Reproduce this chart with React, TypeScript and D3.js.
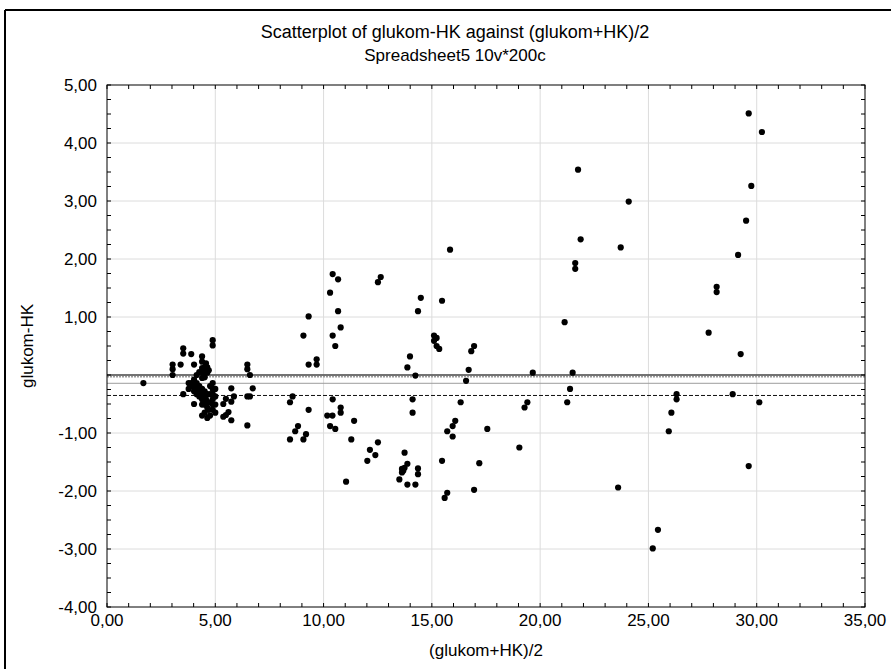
import React from "react";
import * as d3 from "d3";

const W = 891;
const H = 669;

const titleLines = ["Scatterplot of glukom-HK against (glukom+HK)/2", "Spreadsheet5 10v*200c"];
const xTitle = "(glukom+HK)/2";
const yTitle = "glukom-HK";

const xTicks = [0, 5, 10, 15, 20, 25, 30, 35];
const yTicks = [-4, -3, -2, -1, 0, 1, 2, 3, 4, 5];
// labels shown on the y axis (the 0 label is hidden in the original)
const yLabelTicks = [-4, -3, -2, -1, 1, 2, 3, 4, 5];

// mean (x) values
const xs = [
  1.68, 3.03, 3.03, 3.03, 3.4, 3.52, 3.52, 3.89, 3.52, 4.02, 4.39, 4.39, 4.88, 4.88,
  4.14, 4.26, 4.39, 4.45, 4.51, 4.63, 4.57, 4.63, 4.51, 4.39, 4.7,
  3.77, 3.89, 3.77, 3.95, 4.02, 4.08, 4.14, 4.2, 4.26, 4.33, 4.39, 4.45, 4.51, 4.14, 4.26, 4.39, 4.51, 4.63, 4.02,
  4.88, 4.88, 4.88, 4.88, 4.88, 4.88, 5.0, 5.0, 5.0, 5.0, 4.76, 4.76,
  4.39, 4.51, 4.63, 4.39, 4.51, 4.63, 4.7, 4.76, 4.02, 4.57, 4.7,
  5.37, 5.49, 5.74, 5.86, 5.74, 5.49, 5.61, 5.37, 5.74,
  6.48, 6.48, 6.6, 6.73, 6.48, 6.6, 6.48,
  8.45, 8.57, 8.45, 8.69, 8.82, 9.07, 9.19, 9.07, 9.31, 9.31, 9.31, 9.68, 9.68,
  10.17, 10.41, 10.3, 10.54, 10.42, 10.79, 10.79, 10.42, 10.67, 10.3, 10.67, 10.79, 10.42, 10.54,
  11.41, 11.28, 11.04,
  12.02, 12.14, 12.39, 12.51, 12.51, 12.64,
  13.74, 13.87, 13.62, 13.74, 13.62, 13.68, 13.5, 13.87, 14.24, 14.36, 14.36,
  13.87, 13.99, 14.24, 14.11, 14.11, 14.36, 14.49,
  15.47, 15.1, 15.22, 15.1, 15.22, 15.34,
  15.71, 15.47, 15.59, 15.71, 15.84,
  16.7, 16.58, 16.82, 16.95, 16.33, 16.08, 15.96, 15.96, 17.56, 17.19, 16.95,
  19.66, 19.41, 19.28, 19.04,
  21.13, 21.5, 21.38, 21.25, 21.62, 21.62, 21.87, 21.75,
  23.72, 23.6, 24.09,
  25.44, 25.2, 25.94, 26.06, 26.3, 26.3,
  27.78, 28.15, 28.15, 28.89, 29.14, 29.26, 29.51, 29.63, 29.75, 30.24, 29.63, 30.12,
];

// difference (y) values
const ys = [
  -0.14, 0.18, 0.1, 0.0, 0.18, 0.46, 0.37, 0.36, -0.33, 0.18, 0.32, 0.23, 0.6, 0.51,
  0.0, 0.05, 0.12, 0.04, 0.13, 0.13, 0.2, 0.04, -0.04, -0.05, 0.08,
  -0.14, -0.14, -0.24, -0.2, -0.28, -0.22, -0.33, -0.28, -0.37, -0.33, -0.42, -0.37, -0.47, -0.14, -0.19, -0.24, -0.28, -0.33, -0.08,
  -0.14, -0.24, -0.33, -0.42, -0.51, -0.6, -0.24, -0.37, -0.51, -0.65, -0.33, -0.19,
  -0.51, -0.51, -0.56, -0.7, -0.65, -0.74, -0.6, -0.7, -0.5, -0.42, -0.47,
  -0.5, -0.41, -0.46, -0.37, -0.23, -0.69, -0.64, -0.72, -0.78,
  0.18, 0.1, 0.0, -0.23, -0.37, -0.37, -0.87,
  -0.47, -0.37, -1.11, -0.97, -0.88, -1.11, -1.02, 0.68, 1.01, 0.18, -0.6, 0.27, 0.18,
  -0.7, -0.7, -0.88, -0.93, -0.42, -0.56, -0.65, 1.74, 1.65, 1.42, 1.1, 0.82, 0.68, 0.5,
  -0.79, -1.11, -1.84,
  -1.48, -1.29, -1.38, -1.16, 1.6, 1.69,
  -1.34, -1.53, -1.62, -1.6, -1.68, -1.65, -1.8, -1.89, -1.89, -1.61, -1.71,
  0.13, 0.32, -0.01, -0.42, -0.65, 1.1, 1.33,
  1.28, 0.68, 0.64, 0.59, 0.5, 0.45,
  -0.97, -1.48, -2.12, -2.03, 2.16,
  0.09, -0.1, 0.41, 0.5, -0.47, -0.79, -0.88, -1.06, -0.93, -1.52, -1.98,
  0.04, -0.47, -0.56, -1.25,
  0.91, 0.04, -0.24, -0.47, 1.93, 1.83, 2.34, 3.54,
  2.2, -1.94, 2.99,
  -2.67, -2.99, -0.97, -0.65, -0.33, -0.42,
  0.73, 1.52, 1.43, -0.33, 2.07, 0.36, 2.66, 4.51, 3.26, 4.19, -1.57, -0.47,
];

// horizontal reference lines
const refValues = [-0.03, -0.143, -0.353, 0];
const refKinds = ["dotted", "thin", "dashed", "zero"];

const FONT = "'Liberation Sans', Arial, sans-serif";

export default function App() {
  const left = 107, right = 865, top = 85, bottom = 607;
  const x = d3.scaleLinear().domain([0, 35]).range([left, right]);
  const y = d3.scaleLinear().domain([-4, 5]).range([bottom, top]);
  const fmt = (v: number) => d3.format(".2f")(v).replace(".", ",").replace("−", "-");

  const xMinor = d3.range(0, 35.001, 1);
  const yMinor = d3.range(-4, 5.001, 0.25);
  const tickLen = 4;

  const points = xs.map((v, i) => [v, ys[i]] as [number, number]);

  const refStyle = (k: string) => {
    if (k === "zero") return { stroke: "#4a4a4a", strokeWidth: 1.6, dash: undefined };
    if (k === "dotted") return { stroke: "#9a9a9a", strokeWidth: 1.6, dash: "2,1" };
    if (k === "thin") return { stroke: "#9c9c9c", strokeWidth: 1, dash: undefined };
    return { stroke: "#111", strokeWidth: 1, dash: "4,2" };
  };

  return (
    <svg
      width={W}
      height={H}
      style={{ position: "absolute", left: 0, top: 0, background: "#fff" }}
      fontFamily={FONT}
    >
      <rect x={0} y={0} width={W} height={H} fill="#fff" />
      {/* outer frame */}
      <line x1={5} y1={10} x2={W} y2={10} stroke="#000" strokeWidth={2} />
      <line x1={5} y1={10} x2={5} y2={H} stroke="#000" strokeWidth={2} />

      {/* titles */}
      <text x={455} y={38} textAnchor="middle" fontSize={18} fill="#000">{titleLines[0]}</text>
      <text x={455} y={61} textAnchor="middle" fontSize={17} fill="#000">{titleLines[1]}</text>

      {/* grid */}
      {xTicks.slice(1, -1).map((t) => (
        <line key={"gx" + t} x1={x(t)} x2={x(t)} y1={top} y2={bottom} stroke="#dcdcdc" strokeWidth={1} />
      ))}
      {yTicks.slice(1, -1).map((t) => (
        <line key={"gy" + t} x1={left} x2={right} y1={y(t)} y2={y(t)} stroke="#dcdcdc" strokeWidth={1} />
      ))}

      {/* reference lines */}
      {refValues.map((v, i) => {
        const s = refStyle(refKinds[i]);
        return (
          <line key={"r" + i} x1={left} x2={right} y1={y(v)} y2={y(v)} stroke={s.stroke} strokeWidth={s.strokeWidth} strokeDasharray={s.dash} />
        );
      })}

      {/* points */}
      {points.map((p, i) => (
        <circle key={"p" + i} cx={x(p[0])} cy={y(p[1])} r={3.1} fill="#000" />
      ))}

      {/* plot frame */}
      <rect x={left} y={top} width={right - left} height={bottom - top} fill="none" stroke="#000" strokeWidth={1} />

      {/* minor/major ticks */}
      {xMinor.map((t) => (
        <g key={"tx" + t}>
          <line x1={x(t)} x2={x(t)} y1={bottom} y2={bottom - tickLen} stroke="#000" />
          <line x1={x(t)} x2={x(t)} y1={top} y2={top + tickLen} stroke="#000" />
        </g>
      ))}
      {yMinor.map((t) => (
        <g key={"ty" + t}>
          <line x1={left} x2={left + tickLen} y1={y(t)} y2={y(t)} stroke="#000" />
          <line x1={right} x2={right - tickLen} y1={y(t)} y2={y(t)} stroke="#000" />
        </g>
      ))}

      {/* tick labels */}
      {xTicks.map((t) => (
        <text key={"lx" + t} x={x(t)} y={626} textAnchor="middle" fontSize={17} fill="#000">{fmt(t)}</text>
      ))}
      {yLabelTicks.map((t) => (
        <text key={"ly" + t} x={97} y={y(t) + 6} textAnchor="end" fontSize={17} fill="#000">{fmt(t)}</text>
      ))}

      {/* axis titles */}
      <text x={486} y={656} textAnchor="middle" fontSize={17} fill="#000">{xTitle}</text>
      <text transform={`translate(33, ${(top + bottom) / 2}) rotate(-90)`} textAnchor="middle" fontSize={17} fill="#000">{yTitle}</text>
    </svg>
  );
}
